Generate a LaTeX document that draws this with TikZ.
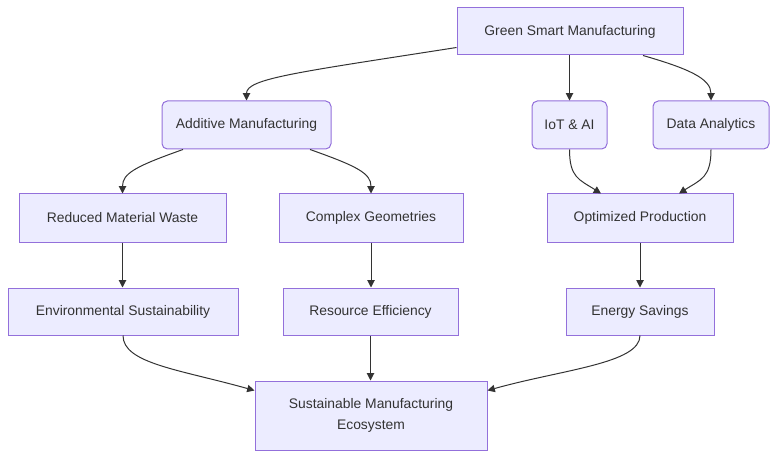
\documentclass[tikz,border=0pt]{standalone}
\usepackage{fontspec}
\setmainfont{Liberation Sans}
\usetikzlibrary{arrows.meta,calc}
\definecolor{boxfill}{HTML}{ECECFF}
\definecolor{boxline}{HTML}{9370DB}
\definecolor{inkcol}{HTML}{333333}

\begin{document}
\begin{tikzpicture}[x=0.75pt,y=-0.75pt,
  box/.style={draw=boxline,fill=boxfill,line width=0.75pt,inner sep=0pt,
    minimum height=35.25pt,text=inkcol,font=\fontsize{10.4}{15.75}\selectfont,align=center},
  rbox/.style={box,rounded corners=4pt},
  link/.style={draw=inkcol,line width=0.75pt,-{Triangle[length=5.5pt,width=5.5pt]}}]
\useasboundingbox (0,0) rectangle (784,463);

% top row
\node[box,minimum width=169.5pt] (green) at (570,31.5) {Green Smart Manufacturing};
\node[rbox,minimum width=126.75pt,minimum height=36pt] (additive) at (246.5,125) {Additive Manufacturing};
\node[rbox,minimum width=56.25pt,minimum height=36pt] (iot) at (569.5,125) {IoT \& AI};
\node[rbox,minimum width=87pt,minimum height=36pt] (data) at (711,125) {Data Analytics};
% effects
\node[box,minimum width=155.25pt,minimum height=36pt] (reduced) at (122.5,218) {Reduced Material Waste};
\node[box,minimum width=138pt,minimum height=36pt] (complex) at (371,218) {Complex Geometries};
\node[box,minimum width=139.5pt,minimum height=36pt] (optimized) at (640,218) {Optimized Production};
\node[box,minimum width=172.5pt] (environ) at (123,311.5) {Environmental Sustainability};
\node[box,minimum width=131.25pt] (resource) at (370.5,311.5) {Resource Efficiency};
\node[box,minimum width=111pt] (energy) at (640,311.5) {Energy Savings};
\node[box,minimum width=174pt,minimum height=51.75pt] (eco) at (371,415.5) {Sustainable Manufacturing\\Ecosystem};

% links
\draw[link] ($(green.south west)+(0,-8)$) .. controls +(-160,25) and +(0,-22) .. (additive.north);
\draw[link] (iot.north |- green.south) -- (iot.north);
\draw[link] ($(green.south)+(73,0)$) .. controls +(45,13) and +(0,-22) .. (data.north);
\draw[link] ($(additive.south)+(-63.5,0)$) .. controls +(-48,17) and +(0,-20) .. (reduced.north);
\draw[link] ($(additive.south)+(63.5,0)$) .. controls +(48,17) and +(0,-20) .. (complex.north);
\draw[link] (iot.south) .. controls +(0,28) and +(-22,-14) .. ($(optimized.north)+(-39,0)$);
\draw[link] (data.south) .. controls +(0,28) and +(22,-14) .. ($(optimized.north)+(39,0)$);
\draw[link] (reduced.south) -- (reduced.south |- environ.north);
\draw[link] (complex.south) -- (complex.south |- resource.north);
\draw[link] (optimized.south) -- (optimized.south |- energy.north);
\draw[link] (environ.south) .. controls +(0,28) and +(-75,-21) .. ($(eco.west)+(0,-25)$);
\draw[link] (resource.south) -- (resource.south |- eco.north);
\draw[link] (energy.south) .. controls +(0,28) and +(75,-21) .. ($(eco.east)+(0,-25)$);
\end{tikzpicture}
\end{document}
